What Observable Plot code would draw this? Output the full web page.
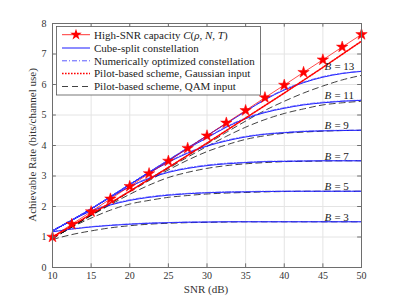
<!DOCTYPE html>
<html><head><meta charset="utf-8">
<script src="https://cdn.jsdelivr.net/npm/d3@7"></script>
<script src="https://cdn.jsdelivr.net/npm/@observablehq/plot@0.6"></script>
<style>body{margin:0;background:#fff} #wrap{position:relative;width:399px;height:299px}</style>
</head><body><div id="wrap"></div>
<script>
// SNR grid (dB)
const snr = [10,12.5,15,17.5,20,22.5,25,27.5,30,32.5,35,37.5,40,42.5,45,47.5,50];
const xTicks = [10,15,20,25,30,35,40,45,50];
const yTicks = [0,1,2,3,4,5,6,7,8];
const bValues = [3,5,7,9,11,13];

// High-SNR capacity C(rho,N,T)
const capacity = [1.0,1.42,1.83,2.25,2.66,3.08,3.49,3.91,4.32,4.74,5.15,5.57,5.98,6.4,6.81,7.23,7.64];
// Pilot-based scheme, Gaussian input
const pilotGauss = [1.0,1.37,1.75,2.12,2.5,2.89,3.28,3.68,4.08,4.49,4.9,5.31,5.72,6.14,6.56,6.99,7.42];

// Cube-split constellation
const cs3  = [1.17,1.26,1.33,1.38,1.42,1.45,1.47,1.485,1.49,1.5,1.5,1.5,1.5,1.5,1.5,1.5,1.5];
const cs5  = [1.2,1.55,1.85,2.05,2.2,2.3,2.37,2.42,2.45,2.47,2.48,2.49,2.5,2.5,2.5,2.5,2.5];
const cs7  = [1.2,1.55,1.92,2.3,2.65,2.92,3.12,3.25,3.34,3.4,3.44,3.47,3.48,3.49,3.5,3.5,3.5];
const cs9  = [1.2,1.55,1.92,2.32,2.72,3.1,3.45,3.75,3.98,4.15,4.28,4.37,4.42,4.46,4.48,4.49,4.5];
const cs11 = [1.2,1.55,1.92,2.32,2.72,3.12,3.5,3.9,4.25,4.6,4.88,5.08,5.22,5.33,5.4,5.45,5.48];
const cs13 = [1.2,1.55,1.92,2.32,2.72,3.12,3.52,3.92,4.32,4.72,5.12,5.5,5.82,6.06,6.24,6.36,6.43];

// Numerically optimized constellation
const no3  = [1.18,1.27,1.34,1.39,1.43,1.46,1.475,1.49,1.495,1.5,1.5,1.5,1.5,1.5,1.5,1.5,1.5];
const no5  = [1.21,1.56,1.87,2.07,2.22,2.32,2.39,2.43,2.46,2.48,2.49,2.5,2.5,2.5,2.5,2.5,2.5];
const no7  = [1.21,1.56,1.93,2.31,2.67,2.94,3.14,3.27,3.36,3.42,3.45,3.48,3.49,3.5,3.5,3.5,3.5];
const no9  = [1.21,1.56,1.93,2.33,2.73,3.12,3.47,3.77,4.0,4.17,4.3,4.38,4.43,4.47,4.49,4.5,4.5];
const no11 = [1.21,1.56,1.93,2.33,2.73,3.13,3.52,3.92,4.27,4.62,4.9,5.1,5.24,5.35,5.42,5.46,5.49];
const no13 = [1.21,1.56,1.93,2.33,2.73,3.13,3.53,3.93,4.33,4.73,5.13,5.52,5.84,6.08,6.26,6.37,6.44];

// Pilot-based scheme, QAM input
const qam3  = [0.92,1.08,1.2,1.3,1.37,1.42,1.45,1.47,1.48,1.49,1.5,1.5,1.5,1.5,1.5,1.5,1.5];
const qam5  = [0.95,1.32,1.62,1.88,2.08,2.2,2.3,2.36,2.41,2.44,2.46,2.48,2.49,2.5,2.5,2.5,2.5];
const qam7  = [0.95,1.33,1.7,2.06,2.4,2.7,2.95,3.12,3.25,3.34,3.4,3.44,3.47,3.48,3.49,3.5,3.5];
const qam9  = [0.95,1.33,1.72,2.1,2.48,2.85,3.2,3.52,3.8,4.02,4.2,4.32,4.4,4.44,4.47,4.49,4.5];
const qam11 = [0.95,1.33,1.72,2.1,2.5,2.88,3.25,3.62,3.97,4.3,4.6,4.85,5.05,5.2,5.33,5.4,5.45];
const qam13 = [0.95,1.33,1.72,2.1,2.5,2.9,3.28,3.67,4.05,4.43,4.8,5.15,5.45,5.72,5.95,6.15,6.3];

const tidy = (groups) => groups.flatMap(([b, arr]) => arr.map((v, i) => ({b, x: snr[i], y: v})));
const cubeData = tidy([[3,cs3],[5,cs5],[7,cs7],[9,cs9],[11,cs11],[13,cs13]]);
const numData  = tidy([[3,no3],[5,no5],[7,no7],[9,no9],[11,no11],[13,no13]]);
const qamData  = tidy([[3,qam3],[5,qam5],[7,qam7],[9,qam9],[11,qam11],[13,qam13]]);
const capData  = capacity.map((v,i) => ({x: snr[i], y: v}));
const gaussData = pilotGauss.map((v,i) => ({x: snr[i], y: v}));
const cubeEnd = [cs3,cs5,cs7,cs9,cs11,cs13];
const labelData = bValues.map((b,i) => ({b, y: cubeEnd[i][cubeEnd[i].length-1]}));

const serif = "'Liberation Serif', 'Times New Roman', serif";
const axisCol = "#6e6e6e";

const chart = Plot.plot({
  width: 399, height: 299,
  marginLeft: 52, marginRight: 38, marginTop: 23, marginBottom: 32,
  style: {fontFamily: serif, fontSize: "10px", background: "white", color: "#333"},
  x: {domain: [10, 50], label: null},
  y: {domain: [0, 8], label: null},
  marks: [
    Plot.gridX(xTicks, {stroke: "#e4e4e4", strokeOpacity: 1}),
    Plot.gridY(yTicks, {stroke: "#e4e4e4", strokeOpacity: 1}),
    Plot.axisX(xTicks, {tickSize: 0, tickPadding: 4, fill: "#333"}),
    Plot.axisY(yTicks, {tickSize: 0, tickPadding: 6, fill: "#333"}),
    Plot.lineY(qamData, {x: "x", y: "y", z: "b", stroke: "#111", strokeWidth: 0.8, strokeDasharray: "6,4", curve: "monotone-x"}),
    Plot.lineY(cubeData, {x: "x", y: "y", z: "b", stroke: "#0000ff", strokeWidth: 0.9, curve: "monotone-x"}),
    Plot.lineY(numData, {x: "x", y: "y", z: "b", stroke: "#4848ff", strokeWidth: 0.8, strokeDasharray: "5,2,1,2", curve: "monotone-x"}),
    Plot.lineY(gaussData, {x: "x", y: "y", stroke: "#ff0000", strokeWidth: 1.6, strokeDasharray: "1.6,1.4", curve: "monotone-x"}),
    Plot.lineY(capData, {x: "x", y: "y", stroke: "#ff0000", strokeWidth: 0.7}),
    Plot.dot(capData, {x: "x", y: "y", symbol: "star", r: 3.6, fill: "#ff0000", stroke: "#ff0000", strokeWidth: 0.5}),
    Plot.text(labelData, {x: () => 45.2, y: "y", text: () => "B", fontStyle: "italic", textAnchor: "start", lineAnchor: "bottom", dy: -1, fontSize: 11, fill: "#222"}),
    Plot.text(labelData, {x: () => 45.2, y: "y", text: d => "= " + d.b, textAnchor: "start", lineAnchor: "bottom", dy: -1, dx: 10, fontSize: 11, fill: "#222"}),
    Plot.ruleX(xTicks, {y1: 0, y2: 0.12, stroke: axisCol}),
    Plot.ruleX(xTicks, {y1: 8, y2: 7.88, stroke: axisCol}),
    Plot.ruleY(yTicks, {x1: 10, x2: 10.5, stroke: axisCol}),
    Plot.ruleY(yTicks, {x1: 50, x2: 49.5, stroke: axisCol}),
    Plot.frame({stroke: axisCol})
  ]
});
document.getElementById("wrap").appendChild(chart);

const svg = d3.select(chart);
// axis titles
svg.append("text").attr("x", 206).attr("y", 289.5)
  .attr("text-anchor", "middle").attr("dy", "0.35em")
  .attr("font-family", serif).attr("font-size", 11).attr("fill", "#333")
  .text("SNR (dB)");
svg.append("text").attr("transform", "translate(32,145) rotate(-90)")
  .attr("text-anchor", "middle").attr("dy", "0.35em")
  .attr("font-family", serif).attr("font-size", 11).attr("fill", "#333")
  .text("Achievable Rate (bits/channel use)");

// Legend drawn inside the plot area
const lg = svg.append("g").attr("font-family", serif).attr("font-size", 11).attr("fill", "#222").attr("text-anchor", "start");
lg.append("rect").attr("x", 56.5).attr("y", 26.5).attr("width", 204).attr("height", 68.5)
  .attr("fill", "white").attr("stroke", "#555").attr("stroke-width", 0.8);
const rows = [
  {stroke: "#ff0000", w: 0.8, dash: null, star: true},
  {stroke: "#0000ff", w: 0.9, dash: null},
  {stroke: "#4848ff", w: 0.9, dash: "5,2,1,2"},
  {stroke: "#ff0000", w: 1.6, dash: "1.6,1.4"},
  {stroke: "#111", w: 0.8, dash: "6,4"}
];
const rowY = [34.7, 48, 60.8, 73.5, 86.5];
const labels = [
  [["High-SNR capacity ", false], ["C", true], ["(", false], ["ρ", true], [", ", false], ["N", true], [", ", false], ["T", true], [")", false]],
  [["Cube-split constellation", false]],
  [["Numerically optimized constellation", false]],
  [["Pilot-based scheme, Gaussian input", false]],
  [["Pilot-based scheme, QAM input", false]]
];
rows.forEach((r, i) => {
  const y = rowY[i];
  const ln = lg.append("line").attr("x1", 62).attr("x2", 90).attr("y1", y).attr("y2", y)
    .attr("stroke", r.stroke).attr("stroke-width", r.w);
  if (r.dash) ln.attr("stroke-dasharray", r.dash);
  if (r.star) lg.append("path").attr("d", d3.symbol(d3.symbolStar, 40)()).attr("transform", `translate(76,${y})`).attr("fill", "#ff0000");
  const t = lg.append("text").attr("x", 94).attr("y", y).attr("dy", "0.35em").attr("text-anchor", "start");
  labels[i].forEach(([s, it]) => { const ts = t.append("tspan").text(s); if (it) ts.attr("font-style", "italic"); });
});
</script>
</body></html>
